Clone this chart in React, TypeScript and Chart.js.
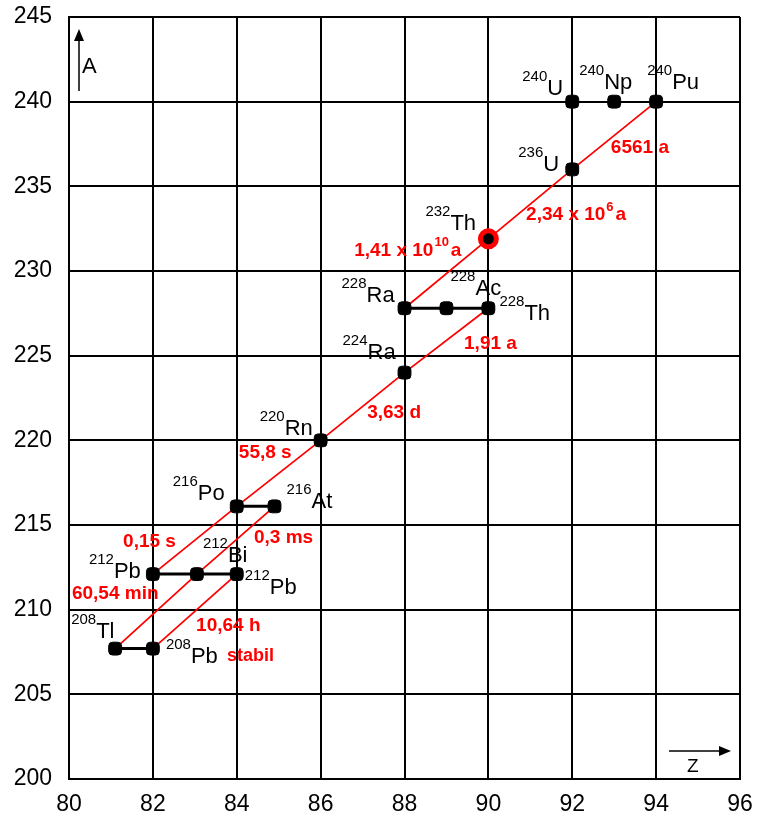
import React, { useEffect, useRef } from "react";
import { Chart, registerables } from "chart.js";

Chart.register(...registerables);

// ---- Data ----
const massNumbers = ["240", "240", "240", "236", "232", "228", "228", "228", "224", "220", "216", "216", "212", "212", "212", "208", "208"];
const symbols = ["U", "Np", "Pu", "U", "Th", "Ra", "Ac", "Th", "Ra", "Rn", "Po", "At", "Pb", "Bi", "Pb", "Tl", "Pb"];
const protonZ = [92, 93, 94, 92, 90, 88, 89, 90, 88, 86, 84, 84.9, 82, 83.05, 84, 81.1, 82];
const massA = [240, 240, 240, 236, 231.9, 227.8, 227.8, 227.8, 224, 220, 216.1, 216.1, 212.1, 212.1, 212.1, 207.7, 207.7];
const highlighted = [4]; // 232Th

const alphaChains = [
  [2, 3, 4, 5],
  [7, 8, 9, 10, 12],
  [11, 13, 15],
  [14, 16],
];
const betaChains = [
  [5, 6, 7],
  [10, 11],
  [12, 13, 14],
  [15, 16],
];

const halfLifeMain = ["6561 a", "2,34 x 10", "1,41 x 10", "1,91 a", "3,63 d", "55,8 s", "0,15 s", "0,3 ms", "60,54 min", "10,64 h", "stabil"];
const halfLifeSup = ["", "6", "10", "", "", "", "", "", "", "", ""];
const halfLifeTail = ["", "a", "a", "", "", "", "", "", "", "", ""];
const halfLifeZ = [92.92, 90.9, 86.8, 89.42, 87.11, 84.05, 81.29, 84.41, 80.07, 83.03, 83.77];
const halfLifeA = [237.25, 233.3, 231.2, 225.7, 221.65, 219.25, 214.0, 214.25, 210.95, 209.05, 207.27];

const xTicks = [80, 82, 84, 86, 88, 90, 92, 94, 96];
const yTicks = [200, 205, 210, 215, 220, 225, 230, 235, 240, 245];

// label offsets (pixels) of nuclide names relative to their point: [dx, dyBaseline]
const labelOffsets = [
  [-50, -7], [-35, -13], [-9, -13], [-54, 2], [-63, -9], [-63, -6], [4, -13], [11, 12],
  [-62, -14], [-61, -5], [-64, -6], [12, 2], [-64, 4], [6, -12], [8, 20], [-44, -11], [13, 14],
];

const FONT = "'Liberation Sans', Arial, sans-serif";

const labelPlugin = {
  id: "nuclideLabels",
  afterDatasetsDraw(chart: any) {
    const ctx = chart.ctx;
    const xs = chart.scales.x;
    const ys = chart.scales.y;
    const area = chart.chartArea;
    ctx.save();
    // nuclide labels
    ctx.fillStyle = "#000";
    ctx.textBaseline = "alphabetic";
    ctx.textAlign = "left";
    for (let i = 0; i < symbols.length; i++) {
      const px = xs.getPixelForValue(protonZ[i]);
      const py = ys.getPixelForValue(massA[i]);
      const [dx, dy] = labelOffsets[i];
      const bx = px + dx;
      const by = py + dy;
      ctx.font = `15px ${FONT}`;
      ctx.fillText(massNumbers[i], bx, by - 14);
      const w = ctx.measureText(massNumbers[i]).width;
      ctx.font = `22px ${FONT}`;
      ctx.fillText(symbols[i], bx + w, by);
    }
    // half-life labels
    ctx.fillStyle = "#ff0000";
    ctx.textBaseline = "middle";
    for (let i = 0; i < halfLifeMain.length; i++) {
      const px = xs.getPixelForValue(halfLifeZ[i]);
      const py = ys.getPixelForValue(halfLifeA[i]);
      const small = halfLifeMain[i] === "stabil";
      ctx.font = `bold ${small ? 18 : 19}px ${FONT}`;
      ctx.fillText(halfLifeMain[i], px, py);
      let x = px + ctx.measureText(halfLifeMain[i]).width;
      if (halfLifeSup[i]) {
        ctx.font = `bold 13px ${FONT}`;
        ctx.fillText(halfLifeSup[i], x + 1, py - 8);
        x += ctx.measureText(halfLifeSup[i]).width + 3;
      }
      if (halfLifeTail[i]) {
        ctx.font = `bold 19px ${FONT}`;
        ctx.fillText(halfLifeTail[i], x, py);
      }
    }
    // axis arrows
    ctx.strokeStyle = "#000";
    ctx.fillStyle = "#000";
    ctx.lineWidth = 1.5;
    const ax = area.left + 10;
    ctx.beginPath();
    ctx.moveTo(ax, area.top + 74);
    ctx.lineTo(ax, area.top + 20);
    ctx.stroke();
    ctx.beginPath();
    ctx.moveTo(ax, area.top + 12);
    ctx.lineTo(ax - 5, area.top + 24);
    ctx.lineTo(ax + 5, area.top + 24);
    ctx.closePath();
    ctx.fill();
    ctx.font = `22px ${FONT}`;
    ctx.textBaseline = "alphabetic";
    ctx.fillText("A", area.left + 13, area.top + 56);

    const zy = area.bottom - 28;
    ctx.beginPath();
    ctx.moveTo(area.right - 71, zy);
    ctx.lineTo(area.right - 20, zy);
    ctx.stroke();
    ctx.beginPath();
    ctx.moveTo(area.right - 9, zy);
    ctx.lineTo(area.right - 21, zy - 5);
    ctx.lineTo(area.right - 21, zy + 5);
    ctx.closePath();
    ctx.fill();
    ctx.font = `19px ${FONT}`;
    ctx.fillText("Z", area.right - 53, area.bottom - 7);
    ctx.restore();
  },
};

export default function App() {
  const canvasRef = useRef<HTMLCanvasElement | null>(null);

  useEffect(() => {
    if (!canvasRef.current) return;
    const pt = (i: number) => ({ x: protonZ[i], y: massA[i] });
    const datasets: any[] = [];
    datasets.push({
      label: "nuclides",
      data: protonZ.map((_, i) => pt(i)).filter((_, i) => !highlighted.includes(i)),
      showLine: false,
      pointStyle: "rectRounded",
      pointRadius: 7.5,
      pointBackgroundColor: "#000",
      pointBorderColor: "#000",
      pointBorderWidth: 1,
      order: 0,
    });
    datasets.push({
      label: "232Th",
      data: highlighted.map(pt),
      showLine: false,
      pointStyle: "circle",
      pointRadius: 8,
      pointBackgroundColor: "#000",
      pointBorderColor: "#ff0000",
      pointBorderWidth: 5,
      order: 0,
    });
    alphaChains.forEach((c, k) =>
      datasets.push({
        label: "alpha" + k,
        data: c.map(pt),
        showLine: true,
        borderColor: "#ff0000",
        borderWidth: 1.8,
        pointRadius: 0,
        order: 2,
      })
    );
    betaChains.forEach((c, k) =>
      datasets.push({
        label: "beta" + k,
        data: c.map(pt),
        showLine: true,
        borderColor: "#000",
        borderWidth: 3,
        pointRadius: 0,
        order: 1,
      })
    );

    const chart = new Chart(canvasRef.current, {
      type: "scatter",
      data: { datasets },
      options: {
        animation: false,
        responsive: true,
        maintainAspectRatio: false,
        layout: { padding: { top: 17, right: 17, left: 0, bottom: 0 } },
        plugins: { legend: { display: false }, tooltip: { enabled: false } },
        scales: {
          x: {
            type: "linear",
            min: 80,
            max: 96,
            afterBuildTicks: (s: any) => {
              s.ticks = xTicks.map((v) => ({ value: v }));
            },
            afterFit: (s: any) => {
              s.height = 40;
              s.paddingLeft = 0;
              s.paddingRight = 0;
            },
            grid: { color: "#000", lineWidth: 2, drawTicks: false },
            border: { color: "#000", width: 2 },
            ticks: { color: "#000", font: { family: FONT, size: 23 }, padding: 12, maxRotation: 0 },
          },
          y: {
            type: "linear",
            min: 200,
            max: 245,
            afterBuildTicks: (s: any) => {
              s.ticks = yTicks.map((v) => ({ value: v }));
            },
            afterFit: (s: any) => {
              s.width = 69;
              s.paddingTop = 0;
              s.paddingBottom = 0;
            },
            grid: { color: "#000", lineWidth: 2, drawTicks: false },
            border: { color: "#000", width: 2 },
            ticks: { color: "#000", font: { family: FONT, size: 23 }, padding: 17 },
          },
        },
      },
      plugins: [labelPlugin],
    });
    return () => chart.destroy();
  }, []);

  return (
    <div style={{ position: "fixed", left: 0, top: 0, width: 757, height: 819, background: "#fff" }}>
      <canvas ref={canvasRef} />
    </div>
  );
}
